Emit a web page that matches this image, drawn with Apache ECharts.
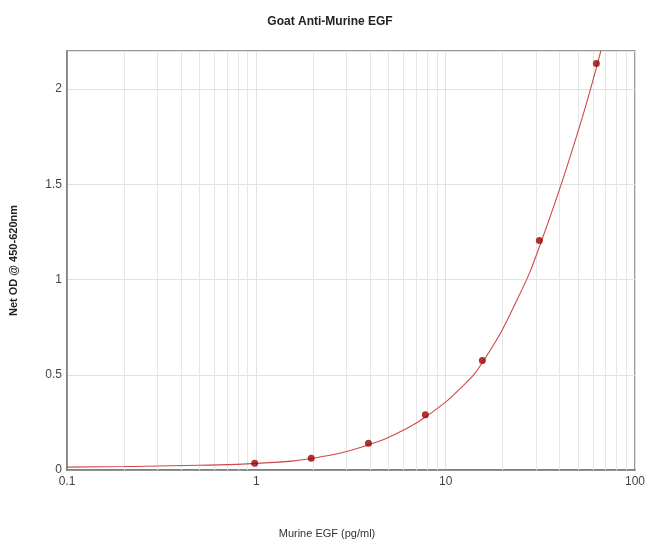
<!DOCTYPE html>
<html>
<head>
<meta charset="utf-8">
<script src="https://cdn.jsdelivr.net/npm/echarts@6/dist/echarts.min.js"></script>
<style>
  html, body { margin: 0; padding: 0; background: #fff; }
  #chart { width: 650px; height: 555px; }
</style>
</head>
<body>
<div id="chart"></div>
<script>
// standards (pg/ml) and measured OD
var concentrations = [0.98, 1.95, 3.91, 7.81, 15.63, 31.25, 62.5];
var odValues = [0.035, 0.062, 0.14, 0.29, 0.575, 1.205, 2.135];

// fitted curve
var curveX = [0.1, 0.2, 0.5, 1, 2, 4, 6, 8, 12, 16, 24, 32, 48, 64, 70];
var curveY = [0.015, 0.018, 0.025, 0.035, 0.062, 0.135, 0.21, 0.285, 0.43, 0.58, 0.9, 1.2, 1.72, 2.15, 2.32];

// minor grid positions on the log axis
var minorTicks = [0.2, 0.3, 0.4, 0.5, 0.6, 0.7, 0.8, 0.9,
                  2, 3, 4, 5, 6, 7, 8, 9,
                  20, 30, 40, 50, 60, 70, 80, 90];
var yTicks = [0, 0.5, 1, 1.5, 2];

var font = "'Liberation Sans Narrow', 'Liberation Sans', Arial, sans-serif";

function pairs(xs, ys) {
    var out = [];
    for (var i = 0; i < xs.length; i++) out.push([xs[i], ys[i]]);
    return out;
}

function getChart() {
    var option = {
        animation: false,
        title: {
            text: 'Goat Anti-Murine EGF',
            left: 325,
            top: 11,
            textAlign: 'center',
            textStyle: { fontFamily: font, fontSize: 12, fontWeight: 'bold', color: '#222' }
        },
        grid: {
            left: 63, right: 15, top: 51, bottom: 85,
            show: true, borderColor: '#7a7a7a', borderWidth: 1.5
        },
        xAxis: {
            type: 'log',
            logBase: 10,
            min: 0.1,
            max: 100,
            name: 'Murine EGF (pg/ml)',
            nameLocation: 'middle',
            nameGap: 58,
            nameTextStyle: { fontFamily: font, fontSize: 11, color: '#333', padding: [0, 48, 0, 0] },
            axisLine: { lineStyle: { color: '#7a7a7a', width: 1.5 } },
            axisTick: { show: false },
            axisLabel: { fontFamily: font, fontSize: 12, color: '#444', margin: 6 },
            splitLine: { show: true, lineStyle: { color: '#e2e2e2', width: 1 } }
        },
        yAxis: {
            type: 'value',
            min: 0,
            max: 2.2,
            interval: 0.5,
            name: 'Net OD @ 450-620nm',
            nameLocation: 'middle',
            nameGap: 48,
            nameRotate: 90,
            nameTextStyle: { fontFamily: font, fontSize: 11, fontWeight: 'bold', color: '#222' },
            axisLine: { lineStyle: { color: '#7a7a7a', width: 1.5 } },
            axisTick: { show: false },
            axisLabel: {
                fontFamily: font, fontSize: 12, color: '#444', margin: 5,
                formatter: function (v) { return yTicks.indexOf(v) >= 0 ? String(v) : ''; }
            },
            splitLine: { show: true, lineStyle: { color: '#e2e2e2', width: 1 } }
        },
        series: [{
            type: 'line',
            data: [],
            silent: true,
            z: 1,
            markLine: {
                silent: true,
                z: 1,
                symbol: 'none',
                label: { show: false },
                lineStyle: { color: '#e6e6e6', width: 1, type: 'solid' },
                data: minorTicks.map(function (t) { return { xAxis: t }; })
            }
        }, {
            type: 'line',
            data: pairs(curveX, curveY),
            smooth: true,
            showSymbol: false,
            lineStyle: { color: '#cc4a48', width: 1.1 },
            z: 6
        }, {
            type: 'scatter',
            data: pairs(concentrations, odValues),
            symbolSize: 7,
            itemStyle: { color: '#9c0000' },
            z: 7
        }]
    };
    return option;
}

var myChart = echarts.init(document.getElementById('chart'));
myChart.setOption(getChart());
</script>
</body>
</html>
